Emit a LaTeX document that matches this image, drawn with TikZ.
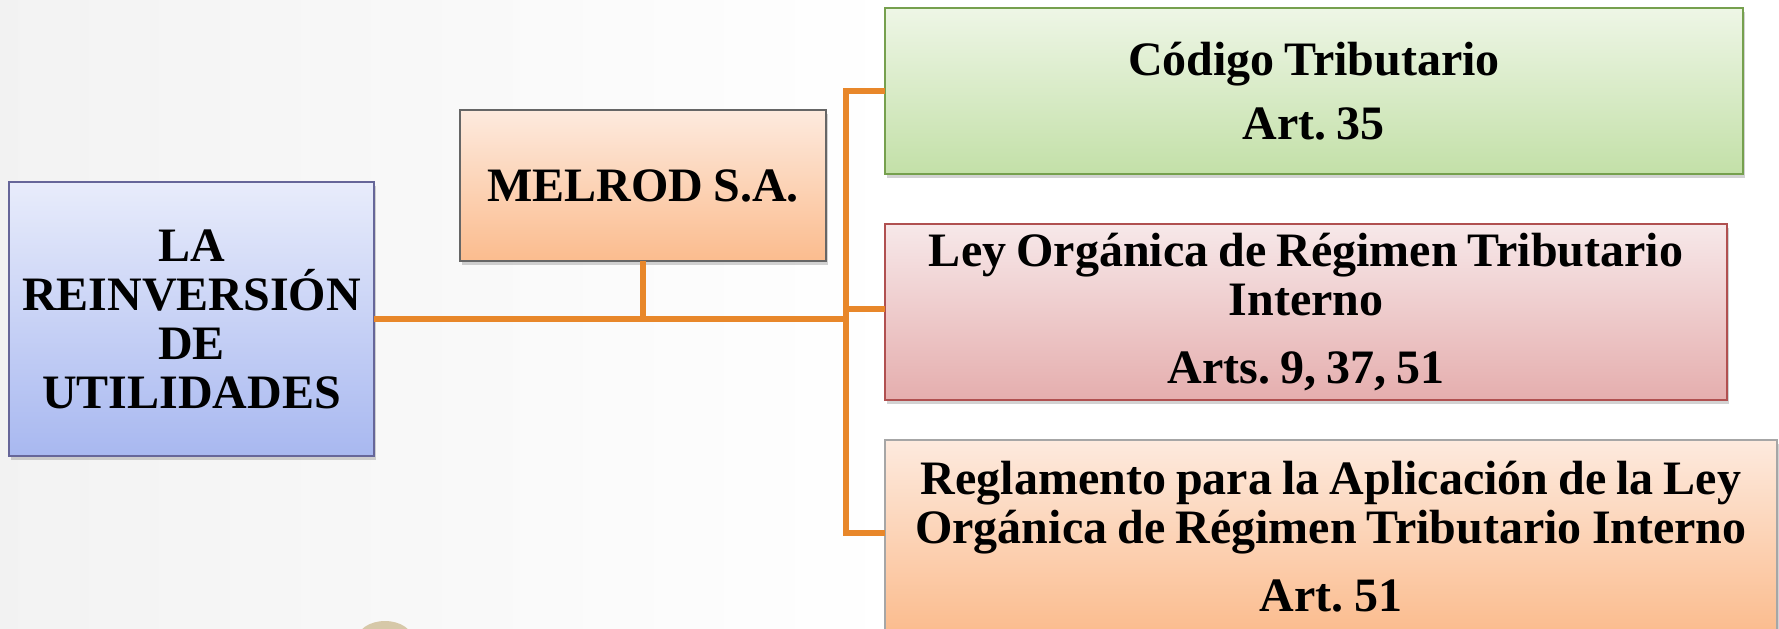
\documentclass[tikz,border=0pt]{standalone}
\usepackage{fontspec}
\setmainfont{Liberation Serif}
\usetikzlibrary{shadows}
\frenchspacing
\begin{document}
\begin{tikzpicture}[x=0.5pt, y=-0.5pt,
    box/.style={draw, line width=0.6pt, inner sep=2pt, outer sep=0pt, align=center,
      font=\fontsize{24}{24.5}\selectfont\bfseries,
      execute at begin node={\spaceskip=0.21em\relax},
      drop shadow={opacity=0.35, shadow xshift=1.2pt, shadow yshift=-1.8pt}},
    conn/.style={line width=2.6pt, color=my-orange, line join=miter}]
    \definecolor{my-orange}{RGB}{232,135,42}
    \definecolor{blue-top}{RGB}{232,236,251}
    \definecolor{blue-bot}{RGB}{168,184,240}
    \definecolor{peach-top}{RGB}{253,234,222}
    \definecolor{peach-bot}{RGB}{251,188,142}
    \definecolor{green-top}{RGB}{238,246,230}
    \definecolor{green-bot}{RGB}{195,224,168}
    \definecolor{red-top}{RGB}{247,232,233}
    \definecolor{red-bot}{RGB}{229,174,174}
    \useasboundingbox (0,0) rectangle (1779,628);
    \fill[left color=black!5, right color=white] (0,0) rectangle (900,628);
    \fill[color=white] (900,0) rectangle (1779,628);
    \fill[color={rgb,255:red,214;green,200;blue,168}] (385,640) ellipse [x radius=28, y radius=19];
    \node[box, draw=gray!80!blue, top color=blue-top, bottom color=blue-bot,
      minimum width=182.5pt, minimum height=137pt, text width=175pt] (reinv) at (191.5,319)
      {LA\\REINVERSIÓN\\DE\\UTILIDADES};
    \node[box, draw=gray!80!black, top color=peach-top, bottom color=peach-bot,
      minimum width=183pt, minimum height=75.5pt] (melrod) at (643,185.5) {MELROD S.A.};
    \node[box, draw={rgb,255:red,118;green,160;blue,78}, top color=green-top, bottom color=green-bot,
      minimum width=429pt, minimum height=83pt, text width=420pt] (codigo) at (1314,91)
      {Código Tributario\\[7.5pt]Art. 35};
    \node[box, draw={rgb,255:red,176;green,80;blue,80}, top color=red-top, bottom color=red-bot,
      minimum width=421pt, minimum height=88pt, text width=412pt] (ley) at (1306,312)
      {Ley Orgánica de Régimen Tributario\\Interno\\[9.5pt]Arts. 9, 37, 51};
    \node[box, draw=gray!70, top color=peach-top, bottom color=peach-bot,
      minimum width=446pt, minimum height=96.5pt, text width=440pt] (regl) at (1331,536.5)
      {Reglamento para la Aplicación de la Ley\\Orgánica de Régimen Tributario Interno\\[9.8pt]Art. 51};
    \coordinate (trunk) at (846,0);
    \coordinate (leyjoin) at (846,309);
    \coordinate (regljoin) at (846,533);
    \draw[conn] (codigo.west) -- (codigo.west -| trunk) -- (regljoin) -- (regljoin -| regl.west);
    \draw[conn] (leyjoin) -- (leyjoin -| ley.west);
    \draw[conn] (reinv.east) -- (reinv.east -| trunk);
    \draw[conn] (melrod.south) -- (melrod.south |- reinv.east);
  \end{tikzpicture}
\end{document}
